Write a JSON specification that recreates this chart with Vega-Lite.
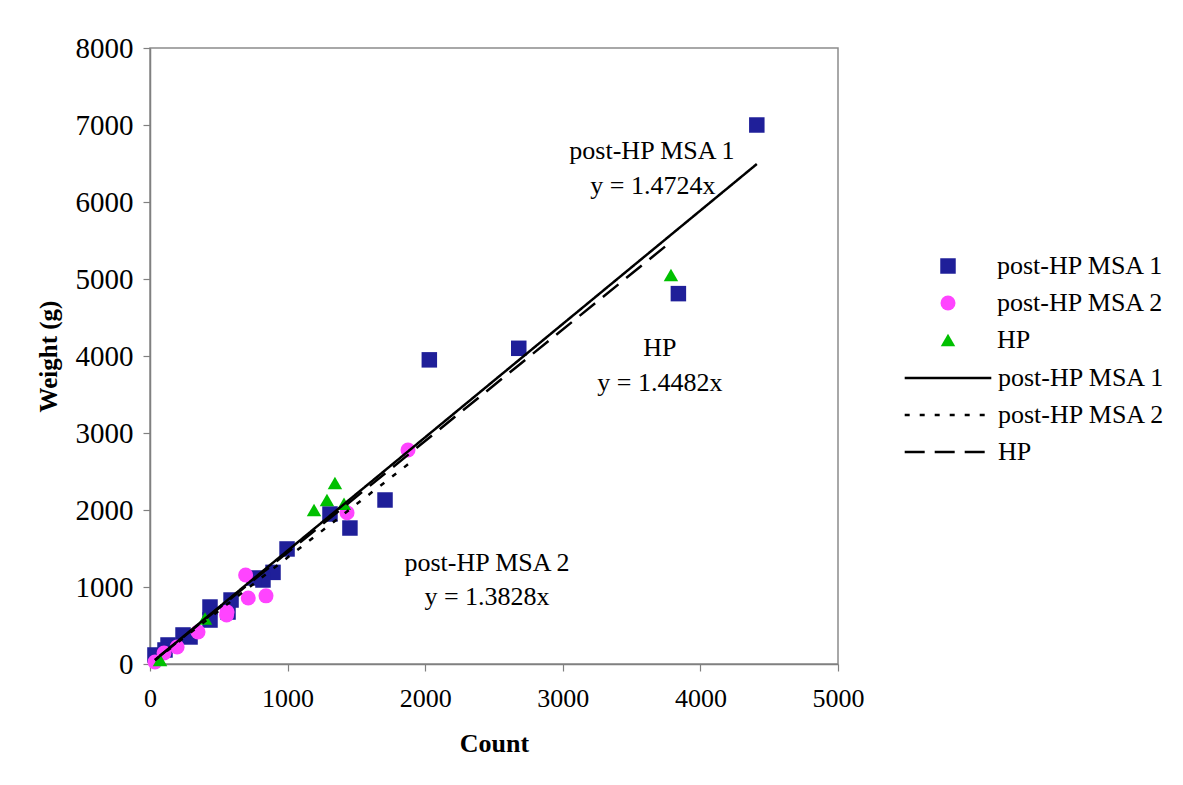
{
  "$schema": "https://vega.github.io/schema/vega-lite/v6.json",
  "width": 688,
  "height": 616,
  "autosize": {"type": "none"},
  "padding": {"left": 150, "top": 48, "right": 345, "bottom": 121},
  "background": "white",
  "config": {
    "view": {"stroke": "#8c8c8c", "strokeWidth": 1.5},
    "axis": {
      "grid": false,
      "labelFlush": false,
      "labelFont": "Liberation Serif",
      "labelColor": "black",
      "titleFont": "Liberation Serif",
      "titleFontWeight": "bold",
      "titleColor": "black",
      "domainColor": "#808080",
      "domainWidth": 1.5,
      "tickColor": "#808080",
      "tickWidth": 1.2,
      "tickSize": 7
    },
    "legend": {
      "labelFont": "Liberation Serif",
      "labelFontSize": 26,
      "labelColor": "black",
      "labelLimit": 400,
      "title": null
    }
  },
  "datasets": {
    "points": [
      {"series": "post-HP MSA 1", "count": 4410, "weight": 7000},
      {"series": "post-HP MSA 1", "count": 3840, "weight": 4810},
      {"series": "post-HP MSA 1", "count": 2680, "weight": 4100},
      {"series": "post-HP MSA 1", "count": 2030, "weight": 3950},
      {"series": "post-HP MSA 1", "count": 1708, "weight": 2130},
      {"series": "post-HP MSA 1", "count": 1453, "weight": 1766},
      {"series": "post-HP MSA 1", "count": 1308, "weight": 1948},
      {"series": "post-HP MSA 1", "count": 996, "weight": 1494},
      {"series": "post-HP MSA 1", "count": 894, "weight": 1190},
      {"series": "post-HP MSA 1", "count": 821, "weight": 1091},
      {"series": "post-HP MSA 1", "count": 756, "weight": 1117},
      {"series": "post-HP MSA 1", "count": 589, "weight": 831},
      {"series": "post-HP MSA 1", "count": 567, "weight": 675},
      {"series": "post-HP MSA 1", "count": 436, "weight": 740},
      {"series": "post-HP MSA 1", "count": 436, "weight": 571},
      {"series": "post-HP MSA 1", "count": 291, "weight": 351},
      {"series": "post-HP MSA 1", "count": 240, "weight": 377},
      {"series": "post-HP MSA 1", "count": 131, "weight": 247},
      {"series": "post-HP MSA 1", "count": 109, "weight": 182},
      {"series": "post-HP MSA 1", "count": 36, "weight": 117},
      {"series": "post-HP MSA 2", "count": 1875, "weight": 2780},
      {"series": "post-HP MSA 2", "count": 1432, "weight": 1965},
      {"series": "post-HP MSA 2", "count": 695, "weight": 1156},
      {"series": "post-HP MSA 2", "count": 714, "weight": 857},
      {"series": "post-HP MSA 2", "count": 843, "weight": 885},
      {"series": "post-HP MSA 2", "count": 557, "weight": 636},
      {"series": "post-HP MSA 2", "count": 560, "weight": 675},
      {"series": "post-HP MSA 2", "count": 349, "weight": 416},
      {"series": "post-HP MSA 2", "count": 197, "weight": 221},
      {"series": "post-HP MSA 2", "count": 102, "weight": 143},
      {"series": "post-HP MSA 2", "count": 36, "weight": 26},
      {"series": "HP", "count": 3786, "weight": 5052},
      {"series": "HP", "count": 1344, "weight": 2351},
      {"series": "HP", "count": 1286, "weight": 2130},
      {"series": "HP", "count": 1192, "weight": 2000},
      {"series": "HP", "count": 1410, "weight": 2080},
      {"series": "HP", "count": 400, "weight": 590},
      {"series": "HP", "count": 73, "weight": 52}
    ],
    "fits": [
      {"fit": "post-HP MSA 1 fit", "count": 36, "weight": 53},
      {"fit": "post-HP MSA 1 fit", "count": 4410, "weight": 6493},
      {"fit": "post-HP MSA 2 fit", "count": 36, "weight": 50},
      {"fit": "post-HP MSA 2 fit", "count": 1875, "weight": 2593},
      {"fit": "HP fit", "count": 73, "weight": 106},
      {"fit": "HP fit", "count": 3786, "weight": 5483}
    ],
    "labels": [
      {"count": 3648, "weight": 6662, "text": "post-HP MSA 1"},
      {"count": 3655, "weight": 6208, "text": "y = 1.4724x"},
      {"count": 3706, "weight": 4104, "text": "HP"},
      {"count": 3706, "weight": 3649, "text": "y = 1.4482x"},
      {"count": 2449, "weight": 1312, "text": "post-HP MSA 2"},
      {"count": 2449, "weight": 870, "text": "y = 1.3828x"}
    ]
  },
  "layer": [
    {
      "data": {"name": "points"},
      "mark": {"type": "point", "filled": true, "opacity": 1},
      "encoding": {
        "x": {
          "field": "count", "type": "quantitative",
          "scale": {"domain": [0, 5000], "nice": false, "zero": true},
          "axis": {"title": "Count", "format": "d", "values": [0, 1000, 2000, 3000, 4000, 5000], "labelFontSize": 26, "labelPadding": 14, "titleFontSize": 26, "titlePadding": 19}
        },
        "y": {
          "field": "weight", "type": "quantitative",
          "scale": {"domain": [0, 8000], "nice": false},
          "axis": {"title": "Weight (g)", "format": "d", "values": [0, 1000, 2000, 3000, 4000, 5000, 6000, 7000, 8000], "labelFontSize": 29, "labelPadding": 10, "titleFontSize": 25, "titlePadding": 14}
        },
        "size": {
          "field": "series", "type": "nominal",
          "scale": {"domain": ["post-HP MSA 1", "post-HP MSA 2", "HP"], "range": [240, 210, 420]},
          "legend": null
        },
        "color": {
          "field": "series", "type": "nominal",
          "scale": {"domain": ["post-HP MSA 1", "post-HP MSA 2", "HP"], "range": ["#1f1f99", "#ff44ff", "#00c000"]},
          "legend": {"orient": "none", "legendX": 785, "legendY": 205, "symbolSize": 230, "rowPadding": 11, "labelOffset": 36, "symbolStrokeWidth": 0}
        },
        "shape": {
          "field": "series", "type": "nominal",
          "scale": {"domain": ["post-HP MSA 1", "post-HP MSA 2", "HP"], "range": ["square", "circle", "triangle-up"]},
          "legend": {"orient": "none", "legendX": 785, "legendY": 205, "symbolSize": 230, "rowPadding": 11, "labelOffset": 36, "symbolStrokeWidth": 0}
        }
      }
    },
    {
      "data": {"name": "fits"},
      "mark": {"type": "line", "color": "black", "strokeWidth": 2.5},
      "encoding": {
        "x": {"field": "count", "type": "quantitative"},
        "y": {"field": "weight", "type": "quantitative"},
        "strokeDash": {
          "field": "fit", "type": "nominal",
          "scale": {"domain": ["post-HP MSA 1 fit", "post-HP MSA 2 fit", "HP fit"], "range": [[1, 0], [5, 10], [20, 10]]},
          "legend": {"orient": "none", "legendX": 753, "legendY": 317, "labelExpr": "replace(datum.label, ' fit', '')", "symbolType": "stroke", "symbolSize": 7500, "symbolStrokeWidth": 2.5, "symbolStrokeColor": "black", "clipHeight": 26, "rowPadding": 11, "labelOffset": 5}
        }
      }
    },
    {
      "data": {"name": "labels"},
      "mark": {"type": "text", "font": "Liberation Serif", "fontSize": 26, "color": "black", "align": "center", "baseline": "middle"},
      "encoding": {
        "x": {"field": "count", "type": "quantitative"},
        "y": {"field": "weight", "type": "quantitative"},
        "text": {"field": "text", "type": "nominal"}
      }
    }
  ]
}
